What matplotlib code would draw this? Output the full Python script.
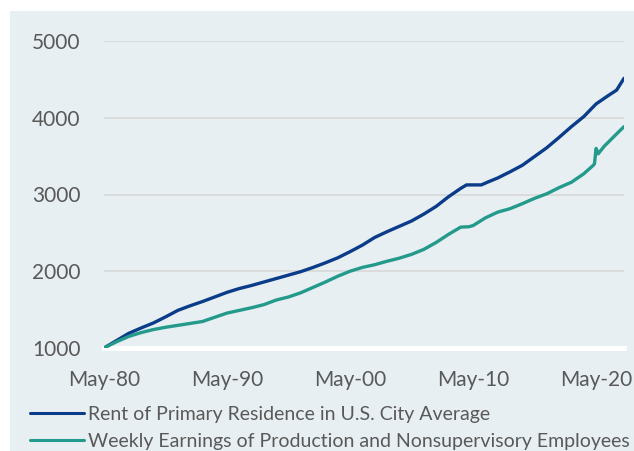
import matplotlib
matplotlib.use('Agg')
import matplotlib.pyplot as plt
from matplotlib.patches import Rectangle

# Index values (May-80 = 1000)
rent_years = [1980.33, 1981.33, 1982.33, 1983.33, 1984.33, 1985.33, 1986.33,
              1987.33, 1988.33, 1989.33, 1990.33, 1991.33, 1992.33, 1993.33,
              1994.33, 1995.33, 1996.33, 1997.33, 1998.33, 1999.33, 2000.33,
              2001.33, 2002.33, 2003.33, 2004.33, 2005.33, 2006.33, 2007.33,
              2008.33, 2009.33, 2009.8, 2010.33, 2011.0, 2011.5, 2012.33,
              2013.33, 2014.33, 2015.33, 2016.33, 2017.33, 2018.33, 2019.33,
              2020.33, 2021.33, 2022.0, 2022.6]
rent_values = [1000, 1095, 1190, 1260, 1325, 1405, 1490, 1550, 1605, 1665,
               1725, 1775, 1815, 1860, 1905, 1950, 1995, 2050, 2110, 2175,
               2255, 2340, 2440, 2515, 2585, 2655, 2745, 2845, 2970, 3080,
               3125, 3125, 3125, 3160, 3215, 3295, 3380, 3495, 3610, 3745,
               3885, 4015, 4180, 4290, 4360, 4514]

wage_years = [1980.33, 1981.33, 1982.33, 1983.33, 1984.33, 1985.33, 1986.33,
              1987.33, 1988.33, 1989.33, 1990.33, 1991.33, 1992.33, 1993.33,
              1994.33, 1995.33, 1996.33, 1997.33, 1998.33, 1999.33, 2000.33,
              2001.33, 2002.33, 2003.33, 2004.33, 2005.33, 2006.33, 2007.33,
              2008.33, 2009.33, 2010.0, 2010.33, 2011.33, 2012.33, 2013.33,
              2014.33, 2015.33, 2016.33, 2017.33, 2018.33, 2019.33, 2020.1,
              2020.2, 2020.33, 2020.5, 2021.0, 2021.5, 2022.0, 2022.6]
wage_values = [1000, 1080, 1150, 1200, 1240, 1270, 1295, 1320, 1345, 1400,
               1455, 1490, 1525, 1565, 1625, 1665, 1720, 1790, 1860, 1935,
               2000, 2050, 2085, 2130, 2170, 2220, 2285, 2375, 2480, 2575,
               2580, 2595, 2695, 2770, 2815, 2880, 2950, 3010, 3090, 3160,
               3270, 3380, 3400, 3600, 3530, 3630, 3710, 3790, 3884]

tick_pos = [1980.33, 1990.33, 2000.33, 2010.33, 2020.33]
tick_labels = ['May-80', 'May-90', 'May-00', 'May-10', 'May-20']
y_ticks = [1000, 2000, 3000, 4000, 5000]

rent_label = 'Rent of Primary Residence in U.S. City Average'
wage_label = 'Weekly Earnings of Production and Nonsupervisory Employees'

bg = '#e7eff2'
text_col = '#595959'
plt.rcParams['font.family'] = ['Lato', 'DejaVu Sans']

fig = plt.figure(figsize=(6.34, 4.51), dpi=100)
fig.patches.append(Rectangle((10 / 634, 0), 1, 1 - 11 / 451,
                             transform=fig.transFigure, facecolor=bg,
                             edgecolor='none', zorder=-5))

ax = fig.add_axes([104 / 634, 1 - 348 / 451, 520 / 634, 307 / 451])
ax.set_facecolor('none')

ax.plot(rent_years, rent_values, color='#0a3c8a', lw=2.4,
        label=rent_label, solid_capstyle='round', zorder=3)
ax.plot(wage_years, wage_values, color='#239a8b', lw=2.4,
        label=wage_label, solid_capstyle='round', zorder=4)

ax.set_xlim(1980.33, 2022.6)
ax.set_ylim(1000, 5000)
ax.set_yticks(y_ticks)
ax.set_xticks(tick_pos)
ax.set_xticklabels(tick_labels)
ax.grid(axis='y', color='#d9d9d9', lw=1.3, zorder=1)
ax.set_axisbelow(True)

for s in ['top', 'right', 'left']:
  ax.spines[s].set_visible(False)
ax.spines['bottom'].set_color('white')
ax.spines['bottom'].set_linewidth(3.5)
ax.spines['bottom'].set_zorder(2)

ax.tick_params(axis='both', length=0, labelsize=15, colors=text_col)
ax.tick_params(axis='y', pad=17)
ax.tick_params(axis='x', pad=16)

leg = fig.legend(loc='upper left', bbox_to_anchor=(30 / 634, 1 - 406 / 451),
                 frameon=False, fontsize=14, handlelength=2.8,
                 handletextpad=0.2, labelspacing=0.5, borderpad=0,
                 borderaxespad=0)
for t in leg.get_texts():
  t.set_color(text_col)
for h in leg.get_lines():
  h.set_linewidth(2.2)

fig.savefig('out.png', dpi=100)
